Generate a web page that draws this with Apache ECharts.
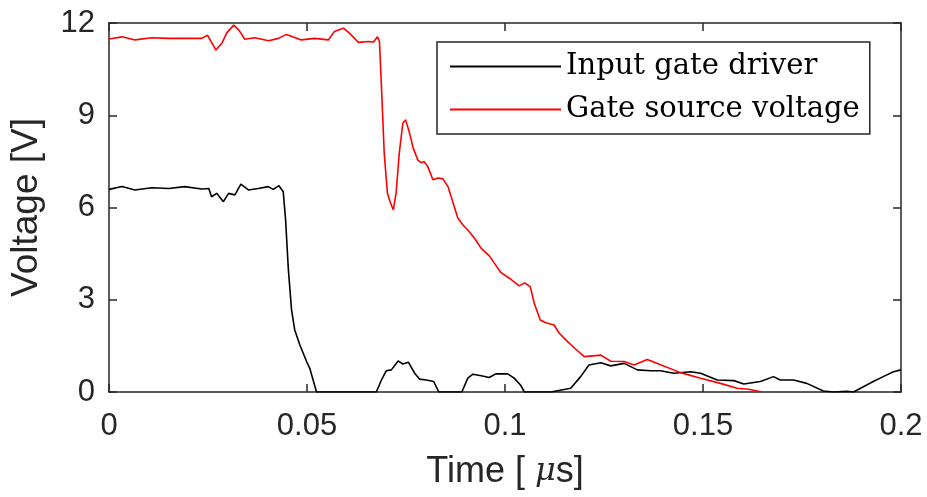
<!DOCTYPE html>
<html>
<head>
<meta charset="utf-8">
<script src="https://cdn.jsdelivr.net/npm/echarts@6/dist/echarts.min.js"></script>
<style>
html, body { margin: 0; padding: 0; background: #fff; }
#ct1 { width: 927px; height: 497px; }
</style>
</head>
<body>
<div id="ct1"></div>
<script>
// time in microseconds, voltage in volts
var blackTime = [0, 0.0033, 0.0065, 0.0108, 0.0151, 0.0191, 0.0234, 0.0252, 0.0259, 0.0272, 0.0289, 0.0302, 0.0318, 0.0333, 0.0352, 0.0377, 0.0402, 0.0415, 0.0429, 0.0440, 0.0446, 0.0453, 0.0461, 0.0469, 0.0482, 0.0499, 0.0507, 0.0524,
	0.0675, 0.0688, 0.0700, 0.0713, 0.0730, 0.0742, 0.0756, 0.0772, 0.0784, 0.0801, 0.0820, 0.0833,
	0.0891, 0.0906, 0.0919, 0.0940, 0.0960, 0.0977, 0.1007, 0.1023, 0.1039, 0.1049,
	0.1116, 0.1166, 0.1191, 0.1212, 0.1242, 0.1267, 0.1301, 0.1334, 0.1368, 0.1393, 0.1426, 0.1469, 0.1494, 0.1536, 0.1578, 0.1603, 0.1645, 0.1678, 0.1695, 0.1729, 0.1762, 0.1804, 0.1829, 0.1863, 0.1880, 0.1905, 0.1930, 0.1955, 0.1981, 0.2000];
var blackVolt = [6.59, 6.68, 6.57, 6.64, 6.62, 6.68, 6.60, 6.62, 6.35, 6.46, 6.19, 6.46, 6.41, 6.76, 6.57, 6.62, 6.68, 6.59, 6.71, 6.51, 5.59, 3.97, 2.67, 2.02, 1.53, 0.99, 0.77, 0,
	0, 0.39, 0.69, 0.72, 1.01, 0.91, 0.97, 0.61, 0.42, 0.39, 0.34, 0,
	0, 0.45, 0.58, 0.53, 0.47, 0.59, 0.59, 0.45, 0.23, 0,
	0, 0.12, 0.50, 0.88, 0.95, 0.85, 0.93, 0.72, 0.69, 0.69, 0.61, 0.66, 0.61, 0.39, 0.37, 0.26, 0.34, 0.50, 0.39, 0.39, 0.28, 0.03, 0, 0.02, 0, 0.17, 0.34, 0.50, 0.66, 0.72];

var redTime = [0, 0.0033, 0.0066, 0.0108, 0.0151, 0.0191, 0.0234, 0.0249, 0.0270, 0.0285, 0.0297, 0.0315, 0.0328, 0.0343, 0.0368, 0.0403, 0.0428, 0.0448, 0.0486, 0.0519, 0.0554, 0.0569, 0.0592, 0.0607, 0.0630, 0.0655, 0.0668, 0.0678, 0.0683,
	0.0688, 0.0695, 0.0703, 0.0710, 0.0718, 0.0725, 0.0733, 0.0742, 0.0749, 0.0759, 0.0768, 0.0780, 0.0788, 0.0796, 0.0805, 0.0818, 0.0831, 0.0843, 0.0856, 0.0868,
	0.0881, 0.0894, 0.0906, 0.0923, 0.0940, 0.0961, 0.0973, 0.0990, 0.1011, 0.1036, 0.1050, 0.1064, 0.1074, 0.1089, 0.1103, 0.1124, 0.1137, 0.1158, 0.1179,
	0.1200, 0.1242, 0.1267, 0.1301, 0.1326, 0.1359, 0.1385, 0.1443, 0.1494, 0.1544, 0.1586, 0.1615, 0.1649];
var redVolt = [11.48, 11.55, 11.45, 11.52, 11.50, 11.50, 11.50, 11.60, 11.12, 11.34, 11.67, 11.93, 11.77, 11.47, 11.52, 11.42, 11.50, 11.63, 11.45, 11.50, 11.45, 11.72, 11.83, 11.67, 11.37, 11.40, 11.38, 11.55, 11.40,
	9.93, 7.77, 6.47, 6.18, 5.92, 6.47, 7.77, 8.74, 8.85, 8.42, 7.94, 7.54, 7.46, 7.49, 7.33, 6.90, 6.96, 6.93, 6.68, 6.19,
	5.65, 5.43, 5.27, 5.00, 4.67, 4.42, 4.19, 3.88, 3.70, 3.45, 3.55, 3.42, 2.88, 2.34, 2.25, 2.18, 1.91, 1.64, 1.39,
	1.15, 1.20, 1.00, 0.99, 0.88, 1.06, 0.93, 0.63, 0.45, 0.28, 0.12, 0.09, 0.00];

var seriesNames = ['Input gate driver', 'Gate source voltage'];
var xTicks = [0, 0.05, 0.1, 0.15, 0.2];
var yTicks = [0, 3, 6, 9, 12];

function pairs(t, v) {
	var out = [];
	for (var i = 0; i < t.length; i++) {
		out.push([t[i], v[i]]);
	}
	return out;
}

var axisCol = '#262626';
var sans = 'Liberation Sans';

function boxAxis(extra) {
	var a = {
		axisLine: { show: true, onZero: false, lineStyle: { color: axisCol, width: 1.5 } },
		axisTick: { show: true, inside: true, length: 8, lineStyle: { color: axisCol, width: 1.5 } },
		splitLine: { show: false },
		axisLabel: { show: false }
	};
	for (var k in extra) a[k] = extra[k];
	return a;
}

var option1 = {
	animation: false,
	backgroundColor: '#ffffff',
	grid: { left: 107, right: 26, top: 23, bottom: 105 },
	legend: {
		left: 437,
		top: 42,
		orient: 'vertical',
		data: seriesNames,
		icon: 'rect',
		itemWidth: 111,
		itemHeight: 2,
		itemGap: 12,
		itemTextGap: 9,
		padding: [9, 10, 9, 13],
		borderColor: axisCol,
		borderWidth: 1.5,
		backgroundColor: '#ffffff',
		textStyle: { fontFamily: 'DejaVu Serif', fontSize: 29, color: '#000', lineHeight: 31 }
	},
	xAxis: [
		boxAxis({
			type: 'value', min: 0, max: 0.2, interval: 0.05, position: 'bottom',
			name: 'Time [ {i|μ}s]',
			nameLocation: 'middle',
			nameGap: 62,
			nameTextStyle: {
				fontFamily: sans, fontSize: 36, color: axisCol,
				rich: { i: { fontFamily: 'DejaVu Serif', fontStyle: 'italic', fontSize: 32, color: axisCol } }
			},
			axisLabel: {
				show: true, margin: 19, fontFamily: sans, fontSize: 31, color: axisCol,
				formatter: function(v) {
					for (var i = 0; i < xTicks.length; i++) {
						if (Math.abs(v - xTicks[i]) < 1e-9) return String(xTicks[i]);
					}
					return '';
				}
			}
		}),
		boxAxis({ type: 'value', min: 0, max: 0.2, interval: 0.05, position: 'top' })
	],
	yAxis: [
		boxAxis({
			type: 'value', min: 0, max: 12, interval: 3, position: 'left',
			name: 'Voltage [V]',
			nameLocation: 'middle',
			nameGap: 64,
			nameTextStyle: { fontFamily: sans, fontSize: 37, color: axisCol },
			axisLabel: { show: true, margin: 14, fontFamily: sans, fontSize: 31, color: axisCol }
		}),
		boxAxis({ type: 'value', min: 0, max: 12, interval: 3, position: 'right' })
	],
	series: [
		{
			name: seriesNames[0],
			type: 'line',
			data: pairs(blackTime, blackVolt),
			showSymbol: false,
			symbol: 'none',
			color: '#000000',
			lineStyle: { color: '#000000', width: 1.6 },
			clip: true
		},
		{
			name: seriesNames[1],
			type: 'line',
			data: pairs(redTime, redVolt),
			showSymbol: false,
			symbol: 'none',
			color: '#ff0000',
			lineStyle: { color: '#ff0000', width: 1.6 },
			clip: true
		}
	]
};

var myChart1 = echarts.init(document.getElementById('ct1'));
myChart1.setOption(option1, true);
</script>
</body>
</html>
